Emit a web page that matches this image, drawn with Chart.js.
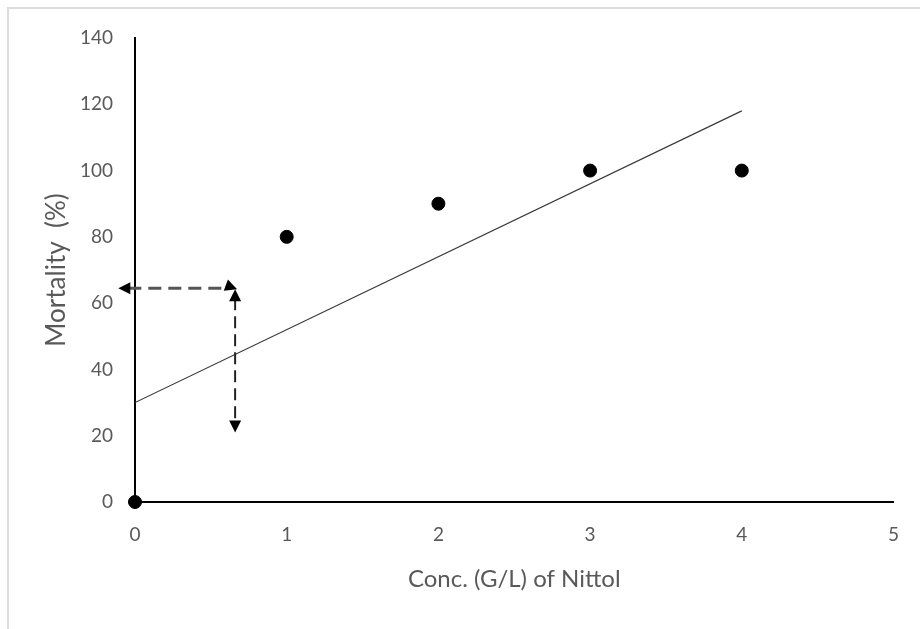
<!DOCTYPE html>
<html>
<head>
<meta charset="utf-8">
<script src="https://cdn.jsdelivr.net/npm/chart.js@4/dist/chart.umd.min.js"></script>
<style>
  html, body { margin: 0; padding: 0; background: #fff; }
  #wrap { width: 920px; height: 629px; position: relative; }
</style>
</head>
<body>
<div id="wrap"><canvas id="c"></canvas></div>
<script>
// Observed data
const concentrations = [0, 1, 2, 3, 4];
const mortality = [0, 80, 90, 100, 100];
// Trend line endpoints
const trendX = [0, 4];
const trendY = [30, 118];
// Annotation arrows
const hArrowX = [-0.11, 0.66];
const hArrowY = [64.5, 64.5];
const vArrowX = [0.66, 0.66];
const vArrowY = [64.5, 21];
// Axis ticks
const xTicks = [0, 1, 2, 3, 4, 5];
const yTicks = [0, 20, 40, 60, 80, 100, 120, 140];

const FONT = "Lato, 'Liberation Sans', sans-serif";
const GREY = '#595959';

const framePlugin = {
  id: 'frame',
  beforeDraw(chart) {
    const ctx = chart.ctx;
    ctx.save();
    ctx.strokeStyle = '#dcdcdc';
    ctx.lineWidth = 2;
    ctx.beginPath();
    ctx.moveTo(8, 630);
    ctx.lineTo(8, 8);
    ctx.lineTo(921, 8);
    ctx.stroke();
    ctx.restore();
  }
};

function head(ctx, tx, ty, angle, len, half) {
  ctx.save();
  ctx.translate(tx, ty);
  ctx.rotate(angle);
  ctx.beginPath();
  ctx.moveTo(0, 0);
  ctx.lineTo(-len, -half);
  ctx.lineTo(-len, half);
  ctx.closePath();
  ctx.fill();
  ctx.restore();
}

const arrowPlugin = {
  id: 'arrows',
  afterDatasetsDraw(chart) {
    const ctx = chart.ctx;
    const xs = chart.scales.x, ys = chart.scales.y;
    ctx.save();
    // horizontal arrow
    const hx0 = xs.getPixelForValue(hArrowX[0]), hx1 = xs.getPixelForValue(hArrowX[1]);
    const hy = ys.getPixelForValue(hArrowY[0]);
    ctx.strokeStyle = '#555555';
    ctx.lineWidth = 3;
    ctx.setLineDash([13, 7]);
    ctx.beginPath();
    ctx.moveTo(hx0 + 10, hy);
    ctx.lineTo(hx1 - 8, hy);
    ctx.stroke();
    // vertical arrow
    const vx = xs.getPixelForValue(vArrowX[0]);
    const vy0 = ys.getPixelForValue(vArrowY[0]), vy1 = ys.getPixelForValue(vArrowY[1]);
    ctx.strokeStyle = '#222222';
    ctx.lineWidth = 2;
    ctx.setLineDash([12, 6]);
    ctx.beginPath();
    ctx.moveTo(vx, vy0 + 10);
    ctx.lineTo(vx, vy1 - 10);
    ctx.stroke();
    ctx.setLineDash([]);
    ctx.fillStyle = '#000';
    head(ctx, hx0, hy, Math.PI, 12, 6);
    head(ctx, hx1 + 2, hy + 1, 0.35, 12, 6);
    head(ctx, vx, vy0 + 1, -Math.PI / 2, 12, 6);
    head(ctx, vx, vy1, Math.PI / 2, 12, 6);
    ctx.restore();
  }
};

new Chart(document.getElementById('c'), {
  type: 'scatter',
  data: {
    datasets: [
      {
        type: 'line',
        label: 'Trend',
        data: trendX.map((x, i) => ({ x, y: trendY[i] })),
        borderColor: '#3a3a3a',
        borderWidth: 1.2,
        pointRadius: 0,
        fill: false,
        order: 2
      },
      {
        label: 'Mortality',
        data: concentrations.map((x, i) => ({ x, y: mortality[i] })),
        backgroundColor: '#000',
        borderColor: '#000',
        pointRadius: 6.5,
        pointHoverRadius: 6.5,
        clip: false,
        order: 1
      }
    ]
  },
  options: {
    responsive: true,
    maintainAspectRatio: false,
    animation: false,
    events: [],
    layout: { padding: { left: 0, top: 38, right: 25, bottom: 0 } },
    plugins: { legend: { display: false }, tooltip: { enabled: false } },
    scales: {
      x: {
        type: 'linear',
        min: 0, max: 5,
        afterFit(s) { s.height = 127; },
        afterBuildTicks(s) { s.ticks = xTicks.map(v => ({ value: v })); },
        grid: { display: false, drawTicks: false },
        border: { display: true, color: '#000', width: 2 },
        ticks: { color: GREY, font: { family: FONT, size: 19 }, padding: 21 },
        title: { display: true, text: 'Conc. (G/L) of Nittol', color: GREY, font: { family: FONT, size: 24 }, padding: { top: 0, bottom: 35 } }
      },
      y: {
        type: 'linear',
        min: 0, max: 140,
        afterFit(s) { s.width = 135; },
        afterBuildTicks(s) { s.ticks = yTicks.map(v => ({ value: v })); },
        grid: { display: false, drawTicks: false },
        border: { display: true, color: '#000', width: 2 },
        ticks: { color: GREY, font: { family: FONT, size: 19 }, padding: 22 },
        title: { display: true, text: 'Mortality  (%)', color: GREY, font: { family: FONT, size: 26 }, padding: { top: 41, bottom: 0 } }
      }
    }
  },
  plugins: [framePlugin, arrowPlugin]
});
</script>
</body>
</html>
